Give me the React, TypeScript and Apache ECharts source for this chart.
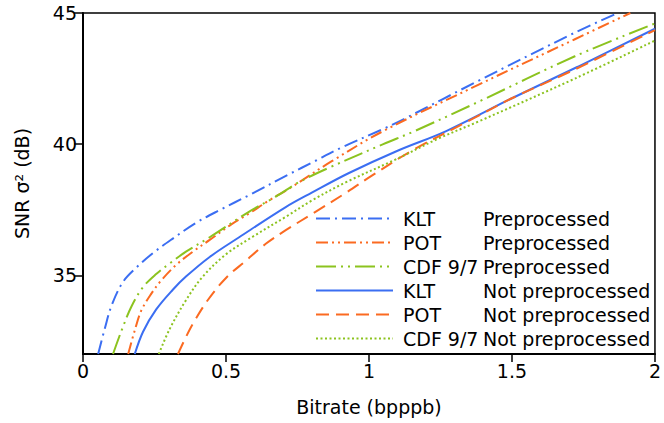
import React, { useEffect, useRef } from "react";
import * as echarts from "echarts";

const xTicks = [0, 0.5, 1, 1.5, 2];
const yTicks = [35, 40, 45];

const kltPre: number[][] = [[0.053,32],[0.077,33.0],[0.1,33.85],[0.14,34.75],[0.187,35.3],[0.245,35.85],[0.314,36.4],[0.395,37.0],[0.48,37.5],[0.58,38.05],[0.72,38.85],[0.81,39.35],[0.9,39.85],[1.05,40.58],[1.13,41.0],[1.38,42.4],[1.72,44.25],[1.87,45]];
const potPre: number[][] = [[0.158,32],[0.181,32.9],[0.204,33.66],[0.239,34.3],[0.274,34.81],[0.326,35.4],[0.384,35.9],[0.443,36.35],[0.52,36.95],[0.58,37.35],[0.65,37.85],[0.72,38.3],[0.87,39.35],[1.05,40.5],[1.38,42.25],[1.72,44.0],[1.914,45]];
const cdfPre: number[][] = [[0.105,32],[0.135,32.9],[0.169,33.8],[0.21,34.55],[0.256,35.05],[0.303,35.45],[0.36,35.9],[0.443,36.45],[0.58,37.42],[0.674,38.0],[0.755,38.55],[0.86,39.1],[1.05,40.0],[1.16,40.5],[1.38,41.6],[1.72,43.35],[2.0,44.6]];
const kltNot: number[][] = [[0.181,32],[0.21,32.85],[0.256,33.7],[0.314,34.45],[0.36,34.95],[0.443,35.7],[0.546,36.45],[0.709,37.6],[0.8,38.15],[0.93,38.9],[1.1,39.75],[1.27,40.5],[1.5,41.75],[1.73,42.95],[2.0,44.4]];
const potNot: number[][] = [[0.332,32],[0.36,32.65],[0.384,33.15],[0.436,34.05],[0.5,34.9],[0.569,35.55],[0.639,36.2],[0.709,36.72],[0.81,37.4],[0.92,38.15],[1.01,38.8],[1.15,39.75],[1.36,40.95],[1.5,41.75],[1.72,42.85],[2.0,44.35]];
const cdfNot: number[][] = [[0.265,32],[0.303,32.95],[0.36,34.05],[0.418,34.94],[0.5,35.8],[0.592,36.46],[0.709,37.23],[0.8,37.85],[0.92,38.55],[1.1,39.45],[1.24,40.2],[1.38,40.85],[1.72,42.5],[2.0,43.95]];

const BLUE = "#3b6ef2";
const ORANGE = "#fb6a21";
const GREEN = "#8cc31f";

const seriesDefs = [
  { name: "KLT|Preprocessed", data: kltPre, color: BLUE, type: [14, 5, 2, 5] },
  { name: "POT|Preprocessed", data: potPre, color: ORANGE, type: [12, 4, 2, 4, 2, 4] },
  { name: "CDF 9/7|Preprocessed", data: cdfPre, color: GREEN, type: [20, 5, 2, 5, 2, 5] },
  { name: "KLT|Not preprocessed", data: kltNot, color: BLUE, type: "solid" },
  { name: "POT|Not preprocessed", data: potNot, color: ORANGE, type: [13, 7] },
  { name: "CDF 9/7|Not preprocessed", data: cdfNot, color: GREEN, type: [2, 2.5] },
];

export default function App() {
  const ref = useRef<HTMLDivElement>(null);
  useEffect(() => {
    document.body.style.margin = "0";
    const chart = echarts.init(ref.current!, null, { renderer: "svg" });
    const font = "DejaVu Sans";
    const fs = 19;
    chart.setOption({
      animation: false,
      textStyle: { fontFamily: font },
      grid: {
        left: 83, right: 6, top: 13, bottom: 69,
        show: true, borderColor: "#000", borderWidth: 1.5, containLabel: false,
      },
      legend: {
        orient: "vertical",
        left: 310,
        top: 204,
        itemWidth: 77,
        itemHeight: 14,
        itemGap: 5,
        data: seriesDefs.map((s) => s.name),
        itemStyle: { opacity: 0, color: "transparent", borderWidth: 0 },
        formatter: (name: string) => {
          const p = name.split("|");
          return `{a|${p[0]}}{b|${p[1]}}`;
        },
        textStyle: {
          fontFamily: font,
          fontSize: fs,
          color: "#000",
          padding: [0, 0, 0, 5],
          rich: {
            a: { width: 80, fontSize: fs, fontFamily: font, color: "#000", lineHeight: 20 },
            b: { fontSize: fs, fontFamily: font, color: "#000", lineHeight: 20 },
          },
        },
      },
      xAxis: {
        type: "value",
        min: 0,
        max: 2,
        interval: 0.5,
        name: "Bitrate (bpppb)",
        nameLocation: "middle",
        nameGap: 43,
        nameTextStyle: { fontFamily: font, fontSize: fs, color: "#000" },
        axisLine: { show: true, lineStyle: { color: "#000", width: 2 } },
        axisTick: { show: true, length: 8, lineStyle: { color: "#000", width: 1.5 } },
        axisLabel: { fontFamily: font, fontSize: fs, color: "#000", margin: 7, formatter: (v: number) => String(v) },
        splitLine: { show: false },
        data: xTicks,
      },
      yAxis: {
        type: "value",
        min: 32,
        max: 45,
        name: "SNR σ² (dB)",
        nameLocation: "middle",
        nameGap: 52,
        nameTextStyle: { fontFamily: font, fontSize: fs, color: "#000" },
        axisLine: { show: true, lineStyle: { color: "#000", width: 2 } },
        axisTick: { show: true, length: 9, customValues: yTicks, lineStyle: { color: "#000", width: 1.5 } },
        axisLabel: { fontFamily: font, fontSize: fs, color: "#000", margin: 6, customValues: yTicks },
        splitLine: { show: false },
      },
      series: seriesDefs.map((s) => ({
        name: s.name,
        type: "line",
        data: s.data,
        smooth: 0.35,
        symbol: "none",
        clip: true,
        itemStyle: { color: s.color },
        lineStyle: { color: s.color, width: 2, type: s.type },
      })),
    });
    return () => chart.dispose();
  }, []);
  return <div ref={ref} style={{ width: 664, height: 423 }} />;
}
